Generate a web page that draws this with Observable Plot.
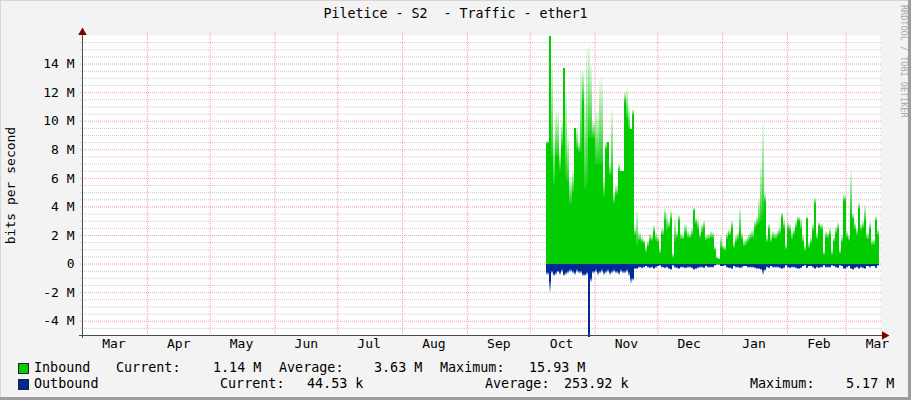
<!DOCTYPE html>
<html>
<head>
<meta charset="utf-8">
<script src="https://cdn.jsdelivr.net/npm/d3@7"></script>
<script src="https://cdn.jsdelivr.net/npm/@observablehq/plot@0.6"></script>
<style>
  html, body { margin: 0; padding: 0; background: #f3f3f3; }
  #chart { position: relative; width: 911px; height: 400px; background: #f3f3f3;
    box-shadow: inset -3px -3px 0 #9c9c9c, inset 1px 1px 0 #d6d6d6;
    font-family: "DejaVu Sans Mono", monospace; color: #000; overflow: hidden; }
  #title { height: 28px; line-height: 28px; text-align: center; white-space: pre; font-size: 13.3px; }
  #plot svg { display: block; }
  #legend { position: relative; height: 40px; font-size: 13.4px; }
  #legend span { position: absolute; white-space: pre; line-height: 16px; }
  #legend .sw { position: absolute; width: 9px; height: 9px; border: 1px solid #222; }
  #credit { position: absolute; left: 899px; top: 5px; writing-mode: vertical-rl; font-size: 8.5px; color: #a8a8a8; white-space: pre; }
</style>
</head>
<body>
<div id="chart">
  <div id="title"></div>
  <div id="plot"></div>
  <div id="legend"></div>
  <div id="credit">RRDTOOL / TOBI OETIKER</div>
</div>
<script>
// ---------- data (values in M bits/s, one value per day starting 2014-10-09) ----------
const titleText = "Piletice - S2  - Traffic - ether1";
const yAxisLabel = "bits per second";
const dataStartDate = "2014-10-09";

// inbound: solid part of each day's column
const inLo = [
  8.4, 15.93, 7.5, 5.5, 7.5, 7.5, 6.5, 8.2, 13.7, 6.0,
  5.7, 4.2, 5.0, 9.5, 8.0, 7.8, 7.8, 11.4, 5.2, 5.5,
  8.8, 8.8, 8.8, 7.0, 7.0, 7.0, 7.0, 4.75, 8.0, 8.5,
  6.2, 6.2, 4.2, 4.8, 6.5, 6.5, 6.5, 11.3, 10.2, 9.4,
  9.4, 10.4, 2.0, 1.3, 1.6, 1.5, 1.4, 0.8, 1.2, 1.6,
  1.6, 2.2, 1.6, 1.5, 0.7, 2.0, 3.0, 2.3, 2.5, 3.1,
  0.4, 1.6, 1.8, 3.0, 1.7, 1.7, 2.1, 1.8, 1.8, 2.0,
  3.7, 2.8, 2.4, 1.8, 2.2, 2.5, 1.6, 1.7, 1.8, 1.8,
  0.9, 0.35, 0.3, 1.1, 1.0, 0.9, 1.7, 2.0, 2.5, 1.1,
  1.5, 1.7, 2.3, 1.7, 1.2, 1.3, 1.5, 1.7, 1.8, 2.5,
  2.7, 2.8, 3.0, 3.5, 4.3, 1.5, 2.4, 1.5, 1.8, 1.7,
  1.9, 2.1, 3.2, 2.5, 1.0, 2.4, 2.3, 1.7, 2.0, 2.5,
  3.0, 2.4, 1.5, 0.9, 3.1, 1.1, 1.4, 2.3, 4.2, 1.7,
  2.6, 2.4, 0.6, 1.8, 1.8, 2.0, 0.6, 1.5, 2.1, 2.4,
  0.7, 1.5, 4.4, 1.8, 1.6, 3.5, 3.1, 2.4, 2.0, 3.8,
  2.3, 2.5, 3.0, 1.7, 2.4, 1.3, 1.3, 3.0, 2.0
];
// inbound: top of the faded peak of each day's column
const inHi = [
  8.6, 15.93, 14.0, 9.0, 10.6, 10.6, 8.0, 10.0, 13.7, 12.0,
  9.0, 6.0, 6.5, 9.5, 9.5, 8.5, 13.5, 13.5, 12.0, 15.0,
  15.2, 14.0, 10.0, 10.6, 10.6, 12.9, 12.9, 6.0, 8.5, 8.5,
  7.0, 10.8, 5.0, 5.5, 7.0, 6.5, 6.5, 12.0, 12.2, 11.0,
  9.4, 10.8, 2.5, 3.7, 2.2, 1.9, 1.7, 1.2, 1.6, 2.1,
  2.0, 2.7, 2.2, 1.9, 1.1, 2.5, 3.9, 3.5, 3.0, 3.7,
  0.8, 3.1, 2.3, 3.4, 2.2, 2.0, 2.8, 2.3, 2.1, 2.5,
  3.9, 3.2, 3.1, 2.2, 2.8, 3.0, 2.0, 2.1, 2.3, 2.2,
  1.2, 0.5, 0.4, 2.0, 1.3, 1.2, 2.2, 2.4, 3.0, 1.5,
  2.0, 2.2, 3.9, 2.2, 1.6, 1.8, 2.0, 2.2, 2.4, 3.0,
  3.3, 4.6, 7.0, 9.8, 5.0, 2.0, 2.8, 2.0, 2.3, 2.2,
  2.4, 2.6, 3.6, 3.1, 1.4, 2.9, 2.8, 2.2, 2.5, 3.0,
  3.3, 3.2, 2.0, 1.3, 3.3, 1.5, 1.9, 2.8, 4.6, 2.2,
  2.9, 2.8, 0.9, 2.3, 2.2, 2.5, 1.0, 1.9, 2.6, 2.9,
  1.0, 2.0, 4.8, 2.3, 2.0, 6.5, 3.5, 2.9, 2.5, 4.3,
  2.8, 3.0, 4.1, 2.2, 2.9, 1.7, 1.7, 3.3, 2.4
];
// outbound (drawn below zero): solid part
const outLo = [
  0.6, 1.2, 0.5, 0.7, 0.6, 0.5, 0.6, 0.4, 0.7, 0.6,
  0.5, 0.4, 0.5, 0.6, 0.4, 0.5, 0.5, 0.7, 0.7, 0.6,
  5.17, 1.0, 0.5, 0.4, 0.6, 0.5, 0.4, 0.6, 0.5, 0.4,
  0.6, 0.5, 0.4, 0.5, 0.6, 0.4, 0.5, 0.5, 0.4, 0.6,
  1.0, 1.0, 0.3, 0.3, 0.2, 0.25, 0.2, 0.15, 0.2, 0.25,
  0.2, 0.3, 0.2, 0.15, 0.1, 0.2, 0.25, 0.2, 0.3, 0.35,
  0.1, 0.2, 0.25, 0.3, 0.2, 0.2, 0.25, 0.2, 0.2, 0.25,
  0.35, 0.3, 0.25, 0.2, 0.2, 0.25, 0.15, 0.2, 0.2, 0.2,
  0.1, 0.05, 0.05, 0.15, 0.15, 0.1, 0.2, 0.25, 0.3, 0.15,
  0.2, 0.2, 0.25, 0.2, 0.15, 0.15, 0.2, 0.2, 0.2, 0.25,
  0.3, 0.3, 0.35, 0.45, 0.4, 0.2, 0.25, 0.15, 0.2, 0.2,
  0.2, 0.25, 0.3, 0.25, 0.1, 0.2, 0.25, 0.2, 0.2, 0.25,
  0.3, 0.25, 0.15, 0.1, 0.25, 0.15, 0.15, 0.2, 0.3, 0.2,
  0.25, 0.2, 0.1, 0.2, 0.2, 0.2, 0.1, 0.15, 0.2, 0.25,
  0.1, 0.15, 0.3, 0.2, 0.15, 0.3, 0.35, 0.25, 0.2, 0.3,
  0.2, 0.25, 0.3, 0.15, 0.2, 0.15, 0.15, 0.25, 0.1
];
// outbound: extent of the faded tip
const outHi = [
  0.8, 2.0, 0.7, 0.9, 0.8, 0.6, 0.8, 0.6, 0.9, 0.8,
  0.7, 0.6, 0.7, 0.8, 0.6, 0.7, 0.7, 0.9, 0.9, 0.8,
  5.17, 1.3, 0.7, 0.6, 0.8, 0.7, 0.6, 0.8, 0.7, 0.6,
  0.8, 0.7, 0.6, 0.7, 0.8, 0.6, 0.7, 0.7, 0.6, 0.9,
  1.4, 1.2, 0.4, 0.4, 0.3, 0.35, 0.3, 0.2, 0.3, 0.35,
  0.3, 0.4, 0.3, 0.2, 0.15, 0.3, 0.35, 0.3, 0.4, 0.45,
  0.15, 0.3, 0.35, 0.4, 0.3, 0.3, 0.35, 0.3, 0.3, 0.35,
  0.45, 0.4, 0.35, 0.3, 0.3, 0.35, 0.2, 0.3, 0.3, 0.3,
  0.15, 0.08, 0.08, 0.2, 0.2, 0.15, 0.3, 0.35, 0.4, 0.2,
  0.3, 0.3, 0.35, 0.3, 0.2, 0.2, 0.3, 0.3, 0.3, 0.35,
  0.4, 0.4, 0.45, 0.8, 0.5, 0.3, 0.35, 0.2, 0.3, 0.3,
  0.3, 0.35, 0.4, 0.35, 0.15, 0.3, 0.35, 0.3, 0.3, 0.35,
  0.4, 0.35, 0.2, 0.15, 0.35, 0.2, 0.2, 0.3, 0.4, 0.3,
  0.35, 0.3, 0.15, 0.3, 0.3, 0.3, 0.15, 0.2, 0.3, 0.35,
  0.15, 0.2, 0.4, 0.3, 0.2, 0.4, 0.45, 0.35, 0.3, 0.4,
  0.3, 0.35, 0.4, 0.2, 0.3, 0.2, 0.2, 0.35, 0.15
];

// axes
const xDomainStart = "2014-03-01";
const xDomainEnd = "2015-03-17T11:00";
const monthLabels = ["Mar", "Apr", "May", "Jun", "Jul", "Aug", "Sep", "Oct", "Nov", "Dec", "Jan", "Feb", "Mar"];
const monthLabelDates = ["2014-03-16", "2014-04-16", "2014-05-16", "2014-06-16", "2014-07-16", "2014-08-16",
  "2014-09-16", "2014-10-16", "2014-11-16", "2014-12-16", "2015-01-16", "2015-02-16", "2015-03-16"];
const monthGridDates = ["2014-04-01", "2014-05-01", "2014-06-01", "2014-07-01", "2014-08-01", "2014-09-01",
  "2014-10-01", "2014-11-01", "2014-12-01", "2015-01-01", "2015-02-01", "2015-03-01"];
const yTickValues = [-4, -2, 0, 2, 4, 6, 8, 10, 12, 14];
const yTickLabels = ["-4 M", "-2 M", "0", "2 M", "4 M", "6 M", "8 M", "10 M", "12 M", "14 M"];
const yMinorValues = [-4.5, -3.5, -3, -2.5, -1.5, -1, -0.5, 0.5, 1, 1.5, 2.5, 3, 3.5, 4.5, 5, 5.5,
  6.5, 7, 7.5, 8.5, 9, 9.5, 10.5, 11, 11.5, 12.5, 13, 13.5, 14.5, 15, 15.5];
const yDomain = [-5, 16];

// legend
const seriesNames = ["Inbound", "Outbound"];
const statNames = ["Current:", "Average:", "Maximum:"];
const inboundStats = ["1.14 M", "3.63 M", "15.93 M"];
const outboundStats = ["44.53 k", "253.92 k", "5.17 M"];

// ---------- rendering ----------
if (inLo.length !== inHi.length || inLo.length !== outLo.length || inLo.length !== outHi.length)
  throw new Error("length mismatch " + [inLo.length, inHi.length, outLo.length, outHi.length]);

const GREEN = "#00cc00", BLUE = "#002a97", AXIS = "#4a4a4a", ARROW = "#7f0000";
const MGRID = "#f2a0a0", GRID = "#cacaca";
const DAY = 864e5, M = 1e6;
const utc = s => new Date(s + (s.length === 10 ? "T00:00Z" : "Z"));
const t0 = +utc(dataStartDate);
const rows = inLo.map((v, i) => ({
  t0: new Date(t0 + i * DAY), t1: new Date(t0 + (i + 1) * DAY),
  inLo: v * M, inHi: inHi[i] * M, outLo: -outLo[i] * M, outHi: -outHi[i] * M
}));
const xStart = utc(xDomainStart), xEnd = utc(xDomainEnd);
const monthRows = monthLabels.map((l, i) => ({date: utc(monthLabelDates[i]), label: l}));
const yTickRows = yTickValues.map((v, i) => ({v: v * M, label: yTickLabels[i]}));

document.getElementById("title").textContent = titleText;

const plot = Plot.plot({
  width: 911, height: 332,
  marginLeft: 82, marginRight: 31, marginTop: 7, marginBottom: 25,
  style: {background: "transparent", fontFamily: "'DejaVu Sans Mono', monospace", fontSize: "13px", color: "#000", overflow: "visible"},
  x: {type: "utc", domain: [xStart, xEnd], axis: null},
  y: {domain: yDomain.map(d => d * M), axis: null},
  marks: [
    Plot.frame({fill: "#ffffff", stroke: "none"}),
    Plot.ruleY(yMinorValues, {y: d => d * M, stroke: GRID, strokeDasharray: "1,1", insetLeft: -2, insetRight: -2}),
    Plot.ruleY(yTickValues, {y: d => d * M, stroke: MGRID, strokeDasharray: "1,1", insetLeft: -2, insetRight: -2}),
    Plot.ruleX(monthGridDates, {x: d => utc(d), stroke: MGRID, strokeDasharray: "1,1", insetTop: -2, insetBottom: -2}),
    Plot.rect(rows, {x1: "t0", x2: "t1", y1: () => 0, y2: "inLo", fill: GREEN, shapeRendering: "crispEdges"}),
    Plot.rect(rows, {x1: "t0", x2: "t1", y1: "inLo", y2: "inHi", fill: "url(#fadeIn)", shapeRendering: "crispEdges"}),
    Plot.rect(rows, {x1: "t0", x2: "t1", y1: () => 0, y2: "outLo", fill: BLUE, shapeRendering: "crispEdges"}),
    Plot.rect(rows, {x1: "t0", x2: "t1", y1: "outLo", y2: "outHi", fill: "url(#fadeOut)", shapeRendering: "crispEdges"}),
    Plot.ruleX([xStart], {stroke: AXIS, insetTop: -4, insetBottom: -3}),
    Plot.ruleY([yDomain[0] * M], {stroke: AXIS, insetLeft: -3, insetRight: -4}),
    Plot.dot([0], {x: () => xStart, y: () => yDomain[1] * M, symbol: "triangle", r: 3.2, fill: ARROW, stroke: "none", dy: -3}),
    Plot.dot([0], {x: () => xEnd, y: () => yDomain[0] * M, symbol: "triangle", r: 3.2, fill: ARROW, stroke: "none", rotate: 90, dx: 4}),
    Plot.text(yTickRows, {y: "v", text: "label", frameAnchor: "left", textAnchor: "end", dx: -8, fontSize: 13}),
    Plot.text(monthRows, {x: "date", text: "label", frameAnchor: "bottom", dy: 12, fontSize: 13}),
    Plot.text([yAxisLabel], {frameAnchor: "left", textAnchor: "middle", rotate: -90, dx: -72, fontSize: 13})
  ]
});

const ns = "http://www.w3.org/2000/svg";
const defs = document.createElementNS(ns, "defs");
defs.innerHTML =
  `<linearGradient id="fadeIn" x1="0" y1="0" x2="0" y2="1">
     <stop offset="0" stop-color="${GREEN}" stop-opacity="0.06"/>
     <stop offset="1" stop-color="${GREEN}" stop-opacity="0.9"/>
   </linearGradient>
   <linearGradient id="fadeOut" x1="0" y1="0" x2="0" y2="1">
     <stop offset="0" stop-color="${BLUE}" stop-opacity="0.9"/>
     <stop offset="1" stop-color="${BLUE}" stop-opacity="0.06"/>
   </linearGradient>`;
plot.insertBefore(defs, plot.firstChild);
document.getElementById("plot").appendChild(plot);

// legend
const legend = document.getElementById("legend");
function add(text, left, top) {
  const s = document.createElement("span");
  s.textContent = text; s.style.left = left + "px"; s.style.top = top + "px";
  legend.appendChild(s);
}
function swatch(color, top) {
  const d = document.createElement("div");
  d.className = "sw"; d.style.background = color; d.style.left = "18px"; d.style.top = top + "px";
  legend.appendChild(d);
}
swatch(GREEN, 3);
add(seriesNames[0], 34, 0);
add(statNames[0], 116, 0); add(inboundStats[0], 213, 0);
add(statNames[1], 279, 0); add(inboundStats[1], 374, 0);
add(statNames[2], 440, 0); add(inboundStats[2], 529, 0);
swatch(BLUE, 19);
add(seriesNames[1], 34, 16);
add(statNames[0], 220, 16); add(outboundStats[0], 307, 16);
add(statNames[1], 485, 16); add(outboundStats[1], 564, 16);
add(statNames[2], 750, 16); add(outboundStats[2], 846, 16);
</script>
</body>
</html>
